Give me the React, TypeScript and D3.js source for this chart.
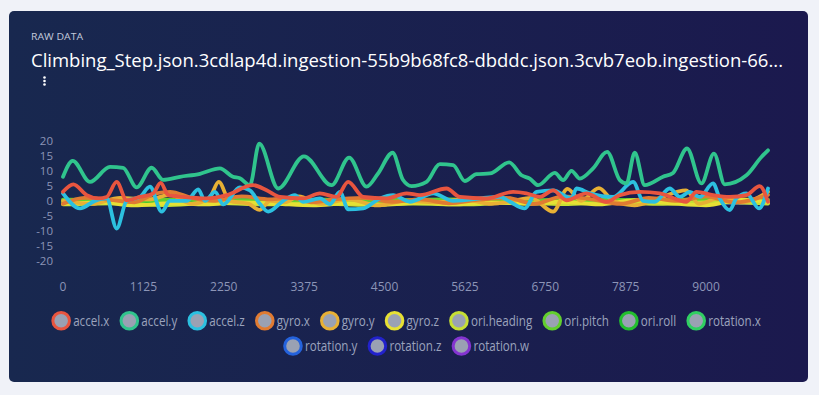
import React, { useEffect, useRef } from "react";
import * as d3 from "d3";

const titleLabel = "RAW DATA";
const titleText =
  "Climbing_Step.json.3cdlap4d.ingestion-55b9b68fc8-dbddc.json.3cvb7eob.ingestion-66...";

const xTicks = [0, 1125, 2250, 3375, 4500, 5625, 6750, 7875, 9000];
const yTicks = [20, 15, 10, 5, 0, -5, -10, -15, -20];
const xMax = 9867;

const seriesNames = [
  "accel.x", "accel.y", "accel.z", "gyro.x", "gyro.y", "gyro.z", "ori.heading",
  "ori.pitch", "ori.roll", "rotation.x", "rotation.y", "rotation.z", "rotation.w",
];
const seriesColors = [
  "#e8553f", "#30c48d", "#2cc0e0", "#e07b32", "#e8b034", "#e6e034", "#c6df34",
  "#62cf2e", "#22bf2e", "#30cf62", "#2462dc", "#2222cc", "#8434d0",
];

const accelX = [
  [0, 3], [144, 5.5], [332, 1.9], [494, 0.8], [611, 1.3], [751, 6.3], [891, 0.2],
  [1077, 1.3], [1263, 2.5], [1367, 6], [1473, 1.9], [1683, 1.3], [2010, 0.8],
  [2290, 1.9], [2662, 5.2], [2850, 3.5], [3036, 1.3], [3362, 0.8], [3595, 2.5],
  [3829, 1.3], [3991, 6.3], [4201, 1.3], [4528, 0.8], [4808, 2.5], [4994, 1.9],
  [5368, 4.1], [5554, 1.3], [5927, 0.8], [6299, 3], [6486, 2.5], [6673, 1.3],
  [6859, 3.5], [7047, 0.2], [7327, 2.5], [7607, -0.3], [7793, 1.9], [8073, 3],
  [8352, 2.5], [8726, -0.3], [8866, 3], [9098, 1.9], [9331, 1.3], [9565, 1.9],
  [9751, 4.9], [9867, -0.3],
];
const accelY = [
  [0, 8], [136, 13.3], [378, 6.3], [658, 11.3], [840, 11], [1031, 4.5], [1241, 11],
  [1399, 7], [1637, 8], [1917, 9], [2196, 10.8], [2378, 8], [2476, 7.5], [2616, 5.2],
  [2746, 19], [3012, 4.1], [3372, 14.8], [3759, 5.2], [4005, 14.4], [4249, 4.7],
  [4407, 9], [4613, 16], [4757, 7], [4878, 4.9], [5088, 6.3], [5274, 12.2],
  [5460, 11.9], [5624, 6.6], [5788, 8.9], [5974, 9.1], [6244, 12.8], [6417, 8.5],
  [6533, 7.4], [6650, 5.2], [6883, 9.3], [6999, 6.9], [7117, 10], [7233, 7.4],
  [7419, 10.8], [7615, 16.3], [7793, 6.9], [7886, 5.8], [8002, 16], [8142, 5.2],
  [8398, 8], [8538, 9.3], [8734, 17.4], [8935, 5.8], [9111, 15.7], [9261, 5.5],
  [9565, 8.5], [9775, 14.6], [9867, 16.8],
];
const accelZ = [
  [0, 2.5], [238, -2.5], [448, 0], [611, 0.8], [751, -9.2], [891, 0], [1077, 1.3],
  [1217, 4.7], [1381, -3.6], [1497, 0], [1731, 0], [1893, 3.8], [1987, 0], [2127, 3],
  [2243, -1.2], [2476, 4.5], [2616, 3.5], [2756, -1], [2872, -3.6], [3082, 0],
  [3246, 1.9], [3362, -0.3], [3595, 0.8], [3735, -1.1], [3875, 3], [3991, -2.8],
  [4201, -2.5], [4435, 0.8], [4621, 1.9], [4855, -0.3], [5181, 2.5], [5460, 0],
  [6114, 1.3], [6254, -0.3], [6463, -2.5], [6627, 3], [6859, 3.5], [7117, 0.8],
  [7187, 4.1], [7373, 2.5], [7699, 1.3], [7979, 6.3], [8119, 0], [8282, -0.3],
  [8492, 4.1], [8632, 1.3], [8772, 3], [8912, 1.3], [9098, 5.8], [9191, 0.8],
  [9331, -3.1], [9424, 0.8], [9565, 2.5], [9741, -2.5], [9867, 4.1],
];
const gyroX = [
  [0, -1], [300, 1], [600, 0.5], [1000, -0.5], [1300, 2.5], [1500, 3], [1800, 1],
  [2100, 0], [2500, 1.5], [2900, 0.5], [3200, 1], [3500, -0.5], [3800, 0.5],
  [4200, 1], [4600, -0.3], [5000, 0.5], [5400, -0.8], [5800, 0.3], [6200, 1],
  [6600, -1], [7000, 1.5], [7400, 0.5], [7800, -1], [8200, 1], [8600, 0],
  [9000, 1.5], [9400, -0.5], [9867, 2],
];
const gyroY = [
  [0, 0], [400, -1], [800, 1], [1200, 0.5], [1500, 2], [1800, -1], [2050, 1],
  [2180, 6.3], [2330, 0], [2600, -1], [2750, -3], [2900, 0], [3100, -0.5],
  [3300, 1.5], [3600, -1], [4000, 0.5], [4400, -1.5], [4800, 0], [5200, -0.5],
  [5600, 0.5], [6000, -1], [6300, 0], [6550, 1], [6860, -3.6], [7060, 4], [7250, 0],
  [7500, 4.2], [7700, 0], [8000, -1.5], [8300, 0.5], [8720, 3.5], [8900, -1],
  [9200, 1], [9500, -0.5], [9867, 3],
];
const gyroZ = [
  [0, -1], [500, -0.5], [1000, -1.5], [1500, -0.8], [2000, -1.2], [2500, -0.5],
  [3000, -1], [3500, -1.5], [4000, -0.8], [4500, -1.3], [5000, -0.6], [5500, -1.2],
  [6000, -0.5], [6500, -1], [7000, -0.3], [7500, -1.2], [8000, 0.2], [8500, -0.8],
  [9000, -1.5], [9500, 0.5], [9867, -0.5],
];
const oriHeading = [
  [0, -1.2], [700, -0.8], [1400, -1.4], [2100, -0.7], [2800, -1.2], [3500, -0.8],
  [4200, -1.3], [4900, -0.9], [5600, -1.2], [6300, -0.6], [7000, -1.1], [7700, -0.6],
  [8400, -1], [9100, -0.4], [9867, -0.9],
];
const oriPitch = [
  [0, 0.4], [900, 0.2], [1800, 0.5], [2700, 0.1], [3600, 0.4], [4500, 0.2],
  [5400, 0.5], [6300, 0.1], [7200, 0.4], [8100, 0.2], [9000, 0.5], [9867, 0.3],
];
const oriRoll = [
  [0, -0.3], [1000, -0.5], [2000, -0.2], [3000, -0.5], [4000, -0.1], [5000, -0.4],
  [6000, -0.2], [7000, -0.5], [8000, -0.3], [9000, -0.5], [9867, -0.2],
];
const rotationX = [
  [0, 0.2], [1200, 0], [2400, 0.3], [3600, 0.1], [4800, 0.3], [6000, 0],
  [7200, 0.2], [8400, 0.1], [9867, 0.3],
];
const rotationY = [
  [0, -0.4], [1500, -0.3], [3000, -0.5], [4500, -0.4], [6000, -0.5], [7500, -0.3],
  [9000, -0.5], [9867, -0.4],
];
const rotationZ = [
  [0, -0.7], [1500, -0.6], [3000, -0.8], [4500, -0.6], [6000, -0.7], [7500, -0.6],
  [9000, -0.7], [9867, -0.6],
];
const rotationW = [
  [0, -0.5], [2000, -0.4], [4000, -0.6], [6000, -0.4], [8000, -0.5], [9867, -0.4],
];

const seriesValues = [
  accelX, accelY, accelZ, gyroX, gyroY, gyroZ, oriHeading,
  oriPitch, oriRoll, rotationX, rotationY, rotationZ, rotationW,
];

const App = () => {
  const ref = useRef<SVGSVGElement>(null);

  useEffect(() => {
    const width = 819;
    const height = 395;
    const font = "'Open Sans', sans-serif";

    const svg = d3.select(ref.current)
      .attr("width", width)
      .attr("height", height);
    svg.selectAll("*").remove();

    svg.append("rect")
      .attr("width", width).attr("height", height)
      .attr("fill", "#f0f2f8");

    const defs = svg.append("defs");
    const grad = defs.append("linearGradient")
      .attr("id", "cardBg")
      .attr("x1", "0%").attr("x2", "100%").attr("y1", "0%").attr("y2", "0%");
    grad.append("stop").attr("offset", "0%").attr("stop-color", "#18284f");
    grad.append("stop").attr("offset", "100%").attr("stop-color", "#1b194e");

    svg.append("rect")
      .attr("x", 9).attr("y", 11)
      .attr("width", 799).attr("height", 371)
      .attr("rx", 5)
      .attr("fill", "url(#cardBg)");

    svg.append("text")
      .attr("x", 31).attr("y", 40)
      .attr("fill", "#c3cadc")
      .attr("font-family", font)
      .attr("font-size", 8.5)
      .attr("textLength", 52)
      .attr("lengthAdjust", "spacingAndGlyphs")
      .text(titleLabel);

    svg.append("text")
      .attr("x", 31).attr("y", 67)
      .attr("fill", "#ffffff")
      .attr("font-family", font)
      .attr("font-size", 19)
      .attr("textLength", 752)
      .attr("lengthAdjust", "spacingAndGlyphs")
      .text(titleText);

    svg.append("g")
      .selectAll("circle")
      .data([77.5, 81, 84.5])
      .join("circle")
      .attr("cx", 44.5).attr("cy", d => d)
      .attr("r", 1.3)
      .attr("fill", "#ffffff");

    const xScale = d3.scaleLinear().domain([0, xMax]).range([63, 768]);
    const yScale = d3.scaleLinear().domain([-20, 20]).range([261, 140.7]);

    svg.append("g")
      .selectAll("text")
      .data(yTicks)
      .join("text")
      .attr("x", 53)
      .attr("y", d => yScale(d))
      .attr("dy", "0.35em")
      .attr("text-anchor", "end")
      .attr("fill", "#8c95b7")
      .attr("font-family", font)
      .attr("font-size", 11.5)
      .text(d => d);

    svg.append("g")
      .selectAll("text")
      .data(xTicks)
      .join("text")
      .attr("x", d => xScale(d))
      .attr("y", 287)
      .attr("dy", "0.35em")
      .attr("text-anchor", "middle")
      .attr("fill", "#8c95b7")
      .attr("font-family", font)
      .attr("font-size", 12)
      .text(d => d);

    const line = d3.line<number[]>()
      .x(d => xScale(d[0]))
      .y(d => yScale(d[1]))
      .curve(d3.curveMonotoneX);

    // first series drawn last so it sits on top
    const order = d3.range(seriesValues.length).reverse();
    svg.append("g")
      .selectAll("path")
      .data(order)
      .join("path")
      .attr("fill", "none")
      .attr("stroke", i => seriesColors[i])
      .attr("stroke-width", 3.8)
      .attr("stroke-linejoin", "round")
      .attr("stroke-linecap", "round")
      .attr("d", i => line(seriesValues[i]));

    // legend, rows centred
    const legend = svg.append("g");
    const condense = 0.83;
    const items = seriesNames.map((name, i) => {
      const t = legend.append("text")
        .attr("font-family", font)
        .attr("font-size", 14)
        .attr("fill", "#9ba3bd")
        .attr("dy", "0.35em")
        .text(name);
      const w = (t.node() as SVGTextElement).getComputedTextLength() * condense;
      t.attr("textLength", w).attr("lengthAdjust", "spacingAndGlyphs");
      return { name, i, t, w: 22 + w };
    });

    const maxRow = 760;
    const gap = 10;
    const rows: typeof items[] = [[]];
    let rowW = 0;
    items.forEach(it => {
      const add = rows[rows.length - 1].length ? gap + it.w : it.w;
      if (rowW + add > maxRow) {
        rows.push([it]);
        rowW = it.w;
      } else {
        rows[rows.length - 1].push(it);
        rowW += add;
      }
    });

    const legendCx = 406;
    const rowY = [320.7, 346];
    rows.forEach((row, r) => {
      const total = d3.sum(row, d => d.w) + gap * (row.length - 1);
      let x = legendCx - total / 2;
      row.forEach(it => {
        legend.append("circle")
          .attr("cx", x + 10).attr("cy", rowY[r])
          .attr("r", 8.3)
          .attr("fill", "#9aa1b3")
          .attr("stroke", seriesColors[it.i])
          .attr("stroke-width", 3);
        it.t.attr("x", x + 22).attr("y", rowY[r]);
        x += it.w + gap;
      });
    });
  }, []);

  return (
    <div style={{ position: "absolute", left: 0, top: 0 }}>
      <svg ref={ref} />
    </div>
  );
};

export default App;
